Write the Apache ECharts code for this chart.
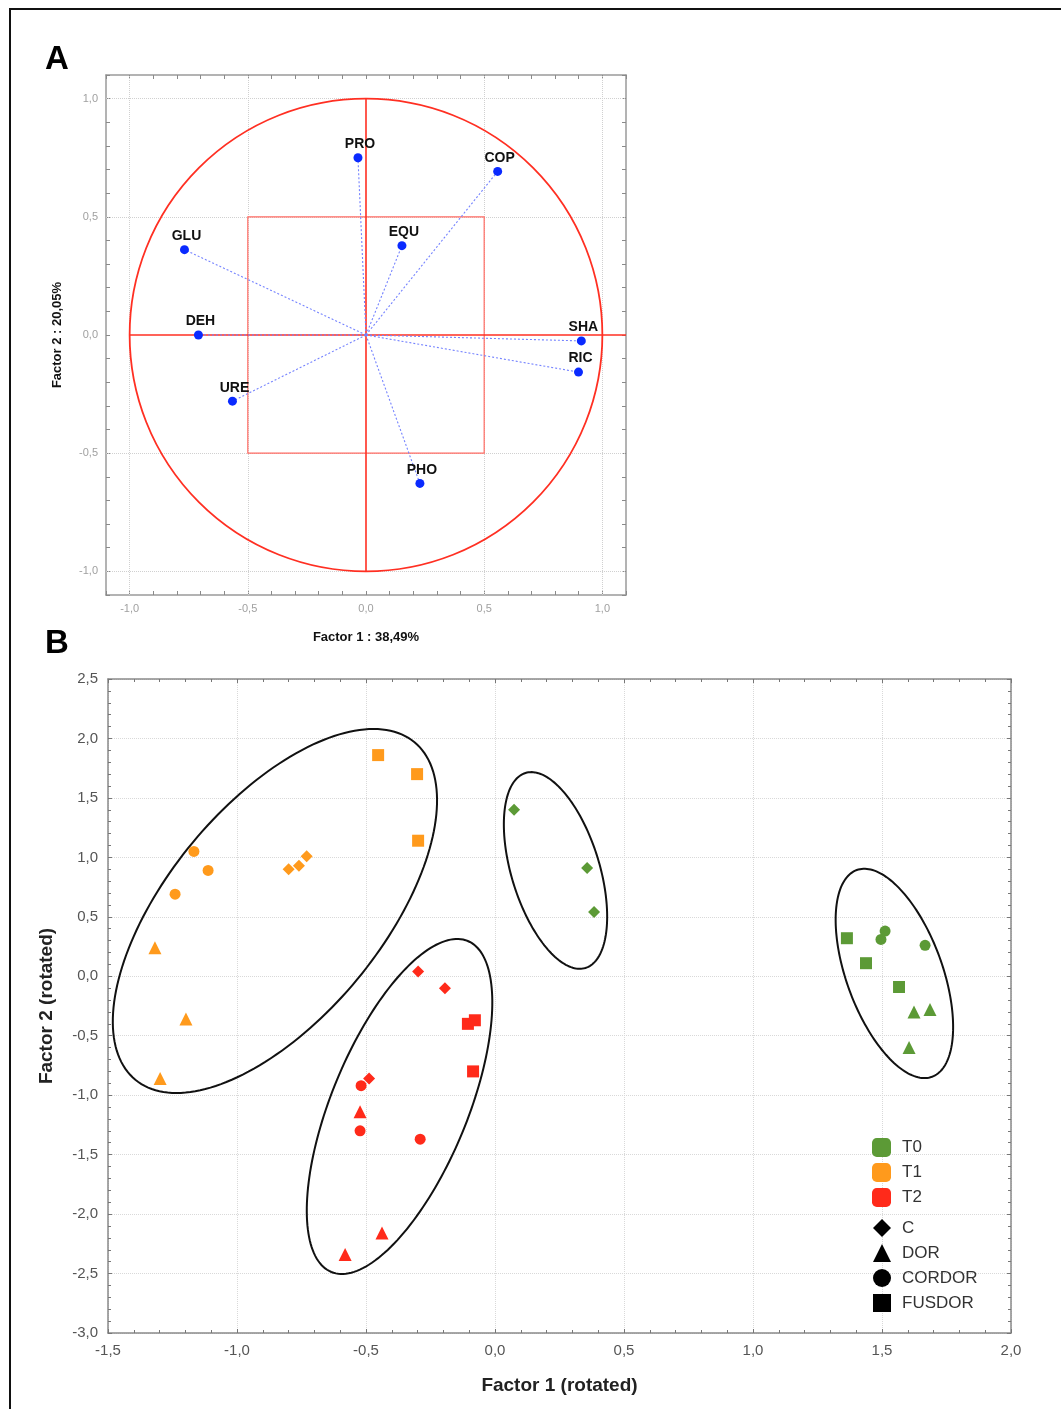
<!DOCTYPE html>
<html>
<head>
<meta charset="utf-8">
<script src="https://cdn.jsdelivr.net/npm/echarts@6/dist/echarts.min.js"></script>
<style>
html,body{margin:0;padding:0;background:#fff;}
#chart{width:1061px;height:1409px;}
</style>
</head>
<body>
<div id="chart"></div>
<script>
// ---------- Panel A: factor loadings ----------
const VAR_NAMES = ['PRO','COP','GLU','EQU','DEH','SHA','RIC','URE','PHO'];
const F1_LOAD = [-0.034, 0.557, -0.768, 0.152, -0.709, 0.911, 0.899, -0.565, 0.228];
const F2_LOAD = [0.750, 0.692, 0.361, 0.378, 0.000, -0.025, -0.157, -0.280, -0.628];
const GRID_A = [-1.0, -0.5, 0.5, 1.0];

// ---------- Panel B: rotated factor scores ----------
const GROUPS = ['T0','T1','T2'];
const SHAPES = ['C','DOR','CORDOR','FUSDOR'];
const T0_C      = [[0.074,1.40],[0.357,0.91],[0.384,0.54]];
const T0_DOR    = [[1.624,-0.30],[1.686,-0.28],[1.605,-0.60]];
const T0_CORDOR = [[1.512,0.38],[1.496,0.31],[1.667,0.26]];
const T0_FUSDOR = [[1.364,0.32],[1.438,0.11],[1.566,-0.09]];
const T1_C      = [[-0.800,0.90],[-0.760,0.93],[-0.730,1.01]];
const T1_DOR    = [[-1.318,0.24],[-1.198,-0.36],[-1.298,-0.86]];
const T1_CORDOR = [[-1.167,1.05],[-1.112,0.89],[-1.240,0.69]];
const T1_FUSDOR = [[-0.453,1.86],[-0.302,1.70],[-0.298,1.14]];
const T2_C      = [[-0.298,0.04],[-0.194,-0.10],[-0.488,-0.86]];
const T2_DOR    = [[-0.523,-1.14],[-0.438,-2.16],[-0.581,-2.34]];
const T2_CORDOR = [[-0.519,-0.92],[-0.523,-1.30],[-0.290,-1.37]];
const T2_FUSDOR = [[-0.105,-0.40],[-0.078,-0.37],[-0.085,-0.80]];
const GROUP_DATA = {
  T0: {C: T0_C, DOR: T0_DOR, CORDOR: T0_CORDOR, FUSDOR: T0_FUSDOR},
  T1: {C: T1_C, DOR: T1_DOR, CORDOR: T1_CORDOR, FUSDOR: T1_FUSDOR},
  T2: {C: T2_C, DOR: T2_DOR, CORDOR: T2_CORDOR, FUSDOR: T2_FUSDOR}
};
// cluster ellipse centres (data units)
const ELLIPSE_CENTERS = [[-0.853,0.549],[-0.370,-1.095],[0.2345,0.890],[1.548,0.024]];

// ---------- styles ----------
const COLORS = {T0:'#5c9a36', T1:'#ff9a1c', T2:'#ff2a1a'};
const SYMBOLS = {C:'diamond', DOR:'triangle', CORDOR:'circle', FUSDOR:'rect'};
const SYM_SIZE = {C:12, DOR:13, CORDOR:11, FUSDOR:12};
const ELLIPSE_SHAPE = [ // semi-axes px, rotation deg (anticlockwise)
  {a:219, b:107, rot:50.4},
  {a:179, b:68, rot:67.6},
  {a:102, b:44, rot:-72.9},
  {a:110, b:48, rot:-70.0}
];
const FONT = "'Liberation Sans', Arial, sans-serif";
const NARROW = "'Liberation Sans Narrow', 'Liberation Sans', Arial, sans-serif";

function fmt(v){
  let r = Math.round(v*10)/10;
  if (Math.abs(r) < 1e-9) r = 0;
  return r.toFixed(1).replace('.', ',');
}
function isHalf(v){ return Math.abs(v*2 - Math.round(v*2)) < 1e-6; }

const chart = echarts.init(document.getElementById('chart'), null, {renderer:'canvas'});

const gridA = {left:106, top:75, width:520, height:520};
const gridB = {left:108, top:679, width:903, height:654};

function axisA(pos, showLabel, name, gap){
  return {
    type:'value', gridIndex:0, position:pos, min:-1.1, max:1.1, interval:0.1,
    name: name || '', nameLocation:'middle', nameGap: gap || 0,
    nameTextStyle:{fontFamily:FONT, fontWeight:'bold', fontSize:13, color:'#111'},
    axisLine:{show:true, onZero:false, lineStyle:{color:'#9a9a9a', width:1.5}},
    axisTick:{show:true, inside:true, length:4, lineStyle:{color:'#8a8a8a'}},
    axisLabel:{show:showLabel, margin:8, fontFamily:FONT, fontSize:11, color:'#a0a0a0',
      formatter: v => isHalf(v) ? fmt(v) : ''},
    splitLine:{show:false}
  };
}
function axisB(pos, showLabel, min, max, name, gap){
  return {
    type:'value', gridIndex:1, position:pos, min:min, max:max, interval:0.5,
    name: name || '', nameLocation:'middle', nameGap: gap || 0,
    nameTextStyle:{fontFamily:FONT, fontWeight:'bold', fontSize:19, color:'#222'},
    axisLine:{show:true, onZero:false, lineStyle:{color:'#8a8a8a', width:1.5}},
    axisTick:{show:true, inside:true, length:4, lineStyle:{color:'#777'}},
    minorTick:{show:true, splitNumber:5, length:3, lineStyle:{color:'#777'}},
    axisLabel:{show:showLabel, margin:10, fontFamily:NARROW, fontSize:15, color:'#555',
      formatter: v => fmt(v)},
    splitLine:{show:showLabel, lineStyle:{color:'#d9d9d9', type:'dotted', width:1}}
  };
}

// build scatter series for panel B
const groupSeries = GROUPS.map(g => ({
  name: g, type:'scatter', xAxisIndex:2, yAxisIndex:2, z:5,
  itemStyle:{color:COLORS[g], opacity:1},
  data: SHAPES.flatMap(s => GROUP_DATA[g][s].map(p => ({value:p, symbol:SYMBOLS[s], symbolSize:SYM_SIZE[s]})))
}));
const shapeSeries = SHAPES.map(s => ({
  name: s, type:'scatter', xAxisIndex:2, yAxisIndex:2, symbol:SYMBOLS[s],
  itemStyle:{color:'#000', opacity:1}, data:[]
}));

const option = {
  animation:false,
  backgroundColor:'#fff',
  grid:[gridA, gridB],
  xAxis:[
    axisA('bottom', true, 'Factor 1 : 38,49%', 36),
    axisA('top', false),
    axisB('bottom', true, -1.5, 2.0, 'Factor 1 (rotated)', 43),
    axisB('top', false, -1.5, 2.0)
  ],
  yAxis:[
    axisA('left', true, 'Factor 2 : 20,05%', 42),
    axisA('right', false),
    axisB('left', true, -3.0, 2.5, 'Factor 2 (rotated)', 52),
    axisB('right', false, -3.0, 2.5)
  ],
  legend:[
    {orient:'vertical', left:867, top:1133, itemWidth:19, itemHeight:19, itemGap:6,
      textStyle:{fontFamily:FONT, fontSize:17, color:'#333', padding:[0,0,0,6]},
      selectedMode:false,
      data: GROUPS.map(g => ({name:g, icon:'roundRect', itemStyle:{color:COLORS[g], opacity:1}}))},
    {orient:'vertical', left:868, top:1214, itemWidth:18, itemHeight:18, itemGap:7,
      textStyle:{fontFamily:FONT, fontSize:17, color:'#333', padding:[0,0,0,6]},
      selectedMode:false,
      data: SHAPES.map(s => ({name:s, icon:SYMBOLS[s], itemStyle:{color:'#000', opacity:1}}))}
  ],
  graphic:[
    {type:'line', shape:{x1:9, y1:9, x2:1061, y2:9}, style:{stroke:'#111', lineWidth:2}},
    {type:'line', shape:{x1:10, y1:9, x2:10, y2:1409}, style:{stroke:'#111', lineWidth:2}},
    {type:'text', left:45, top:43, style:{text:'A', font:"bold 33px 'Liberation Sans', Arial, sans-serif", fill:'#000'}},
    {type:'text', left:45, top:627, style:{text:'B', font:"bold 33px 'Liberation Sans', Arial, sans-serif", fill:'#000'}}
  ],
  series:[
    // panel A grid lines
    {type:'line', xAxisIndex:0, yAxisIndex:0, data:[], silent:true, z:1, zlevel:0,
      markLine:{silent:true, symbol:['none','none'], label:{show:false}, z:1,
        lineStyle:{color:'#d0d0d0', type:'dotted', width:1},
        data: GRID_A.map(v => ({xAxis:v})).concat(GRID_A.map(v => ({yAxis:v})))}},
    // panel A red unit circle, square and cross
    {type:'custom', xAxisIndex:0, yAxisIndex:0, silent:true, z:6, data:[[0,0]],
      renderItem:(params, api) => {
        const o = api.coord([0,0]);
        const s = api.size([1,1]);
        const h1 = api.coord([-1,0]), h2 = api.coord([1.1,0]);
        const v1 = api.coord([0,1]), v2 = api.coord([0,-1]);
        const r1 = api.coord([-0.5,0.5]);
        return {type:'group', children:[
          {type:'rect', shape:{x:r1[0], y:r1[1], width:s[0], height:s[1]}, style:{fill:'none', stroke:'#ff6b63', lineWidth:1.2}},
          {type:'circle', shape:{cx:o[0], cy:o[1], r:s[0]}, style:{fill:'none', stroke:'#ff2f22', lineWidth:1.8}},
          {type:'line', shape:{x1:h1[0], y1:h1[1], x2:h2[0], y2:h2[1]}, style:{stroke:'#ff2f22', lineWidth:1.6}},
          {type:'line', shape:{x1:v1[0], y1:v1[1], x2:v2[0], y2:v2[1]}, style:{stroke:'#ff2f22', lineWidth:1.6}}
        ]};
      }},
    // panel A loading vectors
    {type:'custom', xAxisIndex:0, yAxisIndex:0, silent:true, z:7,
      data: F1_LOAD.map((x,i) => [x, F2_LOAD[i]]),
      renderItem:(params, api) => {
        const o = api.coord([0,0]);
        const p = api.coord([api.value(0), api.value(1)]);
        return {type:'line', shape:{x1:o[0], y1:o[1], x2:p[0], y2:p[1]},
          style:{stroke:'#7583ff', lineWidth:1.1, lineDash:[2,2]}};
      }},
    // panel A points
    {type:'scatter', xAxisIndex:0, yAxisIndex:0, z:8, symbol:'circle', symbolSize:9,
      itemStyle:{color:'#0a2aff', opacity:1},
      data: F1_LOAD.map((x,i) => [x, F2_LOAD[i]]),
      label:{show:true, position:'top', distance:2, offset:[2,0],
        formatter: p => VAR_NAMES[p.dataIndex],
        fontFamily:FONT, fontWeight:'bold', fontSize:14, color:'#111'}},
    // panel B ellipses
    {type:'custom', xAxisIndex:2, yAxisIndex:2, silent:true, z:3,
      data: ELLIPSE_CENTERS,
      renderItem:(params, api) => {
        const e = ELLIPSE_SHAPE[params.dataIndex];
        const c = api.coord([api.value(0), api.value(1)]);
        const pts = [];
        for (let k = 0; k < 180; k++) {
          const t = k / 180 * Math.PI * 2;
          pts.push([e.a*Math.cos(t), e.b*Math.sin(t)]);
        }
        return {type:'polygon', x:c[0], y:c[1], rotation:e.rot*Math.PI/180,
          shape:{points:pts}, style:{fill:'none', stroke:'#111', lineWidth:2}};
      }}
  ].concat(groupSeries).concat(shapeSeries)
};
chart.setOption(option);
</script>
</body>
</html>
